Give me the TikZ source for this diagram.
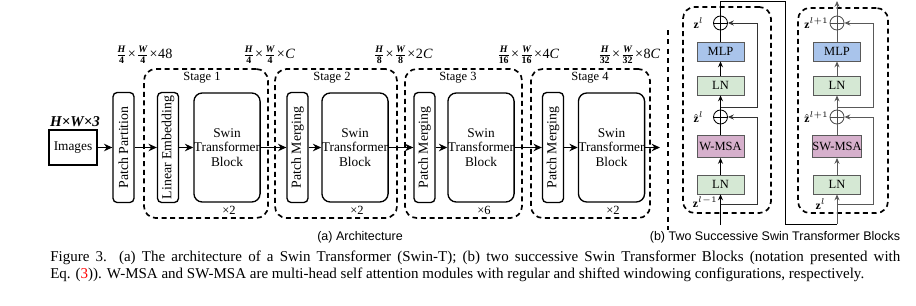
\documentclass[tikz,border=0pt]{standalone}
\usepackage{amsmath,bm}
\usepackage{fontspec}
\setmainfont{Liberation Serif}
\setsansfont{Liberation Sans}
\usetikzlibrary{arrows.meta,calc}
\def\pxu{0.6pt}
\definecolor{mlpblue}{RGB}{169,196,235}
\definecolor{lngreen}{RGB}{213,232,212}
\definecolor{msapink}{RGB}{214,176,204}
\tikzset{
  blk/.style={draw, line width=0.8pt, rounded corners=2.5pt, align=center, inner sep=0pt, font=\fontsize{8}{8.6}\selectfont},
  stb/.style={blk, rounded corners=5pt, minimum width=64*\pxu, minimum height=109*\pxu},
  vblk/.style={blk, rotate=90, minimum width=110*\pxu, minimum height=21*\pxu, font=\fontsize{8.3}{9}\selectfont},
  stagebox/.style={draw, line width=1pt, dash pattern=on 3pt off 2.2pt, rounded corners=7pt, minimum height=149*\pxu, inner sep=0pt},
  arr/.style={-{Stealth[length=5pt,width=4.5pt]}, line width=0.8pt},
  sarr/.style={-{Stealth[length=3.5pt,width=3pt]}, line width=0.5pt},
  lbl/.style={font=\fontsize{7.5}{8.5}\selectfont, inner sep=0pt},
  dim/.style={font=\fontsize{8.5}{10}\selectfont, inner sep=0pt},
  sbox/.style={draw=black!65, line width=0.5pt, minimum width=47*\pxu, minimum height=19*\pxu, inner sep=0pt, font=\fontsize{7.5}{8.5}\selectfont},
  plus/.style={circle, draw, line width=0.5pt, minimum size=14*\pxu, inner sep=0pt,
    path picture={\draw[line width=0.5pt] (path picture bounding box.north) -- (path picture bounding box.south) (path picture bounding box.west) -- (path picture bounding box.east);}},
  blockbox/.style={draw, line width=1pt, dash pattern=on 3pt off 2.2pt, rounded corners=7pt, inner sep=0pt},
  zlab/.style={font=\fontsize{7}{8}\selectfont, inner sep=0pt},
  sub/.style={font=\sffamily\fontsize{7.5}{9}\selectfont, inner sep=0pt},
  captext/.style={font=\fontsize{9}{11}\selectfont, inner sep=0pt}
}
\newcommand{\bi}[1]{\text{\bfseries\itshape #1}}
\newcommand{\bn}[1]{\text{\bfseries #1}}
\newcommand{\tms}{\text{\kern0.3pt×\kern0.3pt}}
\newcommand{\dimlab}[3]{$\frac{\bi{H}}{\bn{#1}}\tms\frac{\bi{W}}{\bn{#1}}\tms\text{#2\textit{#3}}$}
\begin{document}
\begin{tikzpicture}[x=0.6pt,y=-0.6pt]
\useasboundingbox (0,0) rectangle (916,305);
% ---------- (a) Architecture ----------
\node[stagebox, minimum width=124*\pxu] (s1) at (206,143.5) {};
\node[stagebox, minimum width=122*\pxu] (s2) at (336,143.5) {};
\node[stagebox, minimum width=117*\pxu] (s3) at (463.5,143.5) {};
\node[stagebox, minimum width=119*\pxu] (s4) at (590.5,143.5) {};
\node[lbl] (st1) at (202,78) {Stage 1};
\node[lbl] (st2) at (332,78) {Stage 2};
\node[lbl] (st3) at (458,78) {Stage 3};
\node[lbl] (st4) at (590,78) {Stage 4};

\node[dim, font=\fontsize{9}{10}\selectfont] (hw3) at (75,122) {\bfseries\itshape H×W×3};
\node[blk, rounded corners=0pt, minimum width=48*\pxu, minimum height=35*\pxu] (img) at (73,147.5) {Images};
\node[vblk] (pp) at (123.5,147.5) {Patch Partition};
\node[vblk] (le) at (168,147.5) {Linear Embedding};
\node[stb] (stb1) at (227,147.5) {Swin\\Transformer\\Block};
\node[vblk] (pm2) at (297.5,147.5) {Patch Merging};
\node[stb] (stb2) at (355,147.5) {Swin\\Transformer\\Block};
\node[vblk] (pm3) at (424.5,147.5) {Patch Merging};
\node[stb] (stb3) at (481,147.5) {Swin\\Transformer\\Block};
\node[vblk] (pm4) at (553,147.5) {Patch Merging};
\node[stb] (stb4) at (611.5,147.5) {Swin\\Transformer\\Block};
\coordinate (out) at (660,147.5);

\node[lbl] (x1) at (229,210) {×2};
\node[lbl] (x2) at (357,210) {×2};
\node[lbl] (x3) at (484,210) {×6};
\node[lbl] (x4) at (613,210) {×2};

\node[dim] (d0) at (144,55) {\dimlab{4}{48}{}};
\node[dim] (d1) at (269,55) {\dimlab{4}{}{C}};
\node[dim] (d2) at (403,55) {\dimlab{8}{2}{C}};
\node[dim] (d3) at (528,55) {\dimlab{16}{4}{C}};
\node[dim] (d4) at (629,55) {\dimlab{32}{8}{C}};

\draw[arr] (img) -- (pp);
\draw[arr] (pp) -- (le);
\draw[arr] (le) -- (stb1);
\draw[arr] (stb1) -- (pm2);
\draw[arr] (pm2) -- (stb2);
\draw[arr] (stb2) -- (pm3);
\draw[arr] (pm3) -- (stb3);
\draw[arr] (stb3) -- (pm4);
\draw[arr] (pm4) -- (stb4);
\draw[arr] (stb4) -- (out);

% separator
\coordinate (sepa) at (668,30);
\coordinate (sepb) at (668,230);
\draw[line width=1.3pt, dash pattern=on 3pt off 2.6pt] (sepa) -- (sepb);

% ---------- (b) Two blocks ----------
\node[blockbox, minimum width=88*\pxu, minimum height=206*\pxu] (b1) at (727,110) {};
\node[blockbox, minimum width=90*\pxu, minimum height=205*\pxu] (b2) at (843,110.5) {};

% block 1
\node[plus] (p1t) at (720.5,23) {};
\node[sbox, fill=mlpblue] (mlp1) at (720.5,51.5) {MLP};
\node[sbox, fill=lngreen] (ln1t) at (720.5,85.5) {LN};
\node[plus] (p1m) at (720.5,117) {};
\node[sbox, fill=msapink, minimum height=22*\pxu] (msa1) at (720.5,146.5) {W-MSA};
\node[sbox, fill=lngreen] (ln1b) at (720.5,184.5) {LN};
\coordinate (in1) at (720.5,225);
\coordinate (r1a) at (720.5,204);
\coordinate (r1b) at (757,204);
\coordinate (r1c) at (757,117);
\coordinate (r1d) at (720.5,107);
\coordinate (r1e) at (757,107);
\coordinate (r1f) at (757,23);
\draw[sarr] (in1) -- (ln1b);
\draw[sarr] (ln1b) -- (msa1);
\draw[line width=0.5pt] (msa1) -- (p1m);
\draw[sarr] (p1m) -- (ln1t);
\draw[sarr] (ln1t) -- (mlp1);
\draw[line width=0.5pt] (mlp1) -- (p1t);
\draw[sarr, black!80] (r1a) -- (r1b) -- (r1c) -- (p1m);
\draw[sarr, black!80] (r1d) -- (r1e) -- (r1f) -- (p1t);
\node[zlab, anchor=east] (z1t) at (704,23) {$\mathbf{z}^{l}$};
\node[zlab, anchor=east] (z1m) at (704,117) {$\hat{\mathbf{z}}^{l}$};
\node[zlab, anchor=east] (z1b) at (718,202) {$\mathbf{z}^{l-1}$};

% link between blocks
\coordinate (k1) at (720.5,1);
\coordinate (k2) at (785,1);
\coordinate (k3) at (785,224);
\coordinate (k4) at (837,224);

% block 2
\node[plus, draw=black!70] (p2t) at (837,23) {};
\node[sbox, fill=mlpblue] (mlp2) at (837,51.5) {MLP};
\node[sbox, fill=lngreen] (ln2t) at (837,85.5) {LN};
\node[plus, draw=black!70] (p2m) at (837,117) {};
\node[sbox, fill=msapink, minimum height=22*\pxu] (msa2) at (837,146.5) {SW-MSA};
\node[sbox, fill=lngreen] (ln2b) at (837,184.5) {LN};
\coordinate (r2a) at (837,204);
\coordinate (r2b) at (873,204);
\coordinate (r2c) at (873,117);
\coordinate (r2d) at (837,107);
\coordinate (r2e) at (873,107);
\coordinate (r2f) at (873,23);
\coordinate (out2) at (837,1);

\draw[line width=0.5pt] (p1t) -- (k1) -- (k2) -- (k3) -- (k4);
\draw[sarr, black!65] (k4) -- (ln2b);
\draw[sarr, black!65] (ln2b) -- (msa2);
\draw[line width=0.5pt, black!65] (msa2) -- (p2m);
\draw[sarr, black!65] (p2m) -- (ln2t);
\draw[sarr, black!65] (ln2t) -- (mlp2);
\draw[line width=0.5pt, black!65] (mlp2) -- (p2t);
\draw[sarr, black!65] (r2a) -- (r2b) -- (r2c) -- (p2m);
\draw[sarr, black!65] (r2d) -- (r2e) -- (r2f) -- (p2t);
\draw[sarr, black!65] (p2t) -- (out2);
\node[zlab, anchor=east] (z2t) at (829,23) {$\mathbf{z}^{l+1}$};
\node[zlab, anchor=east] (z2m) at (829,117) {$\hat{\mathbf{z}}^{l+1}$};
\node[zlab, anchor=east] (z2b) at (826,204) {$\mathbf{z}^{l}$};

% sub captions
\node[sub] (suba) at (360,237) {(a) Architecture};
\node[sub] (subb) at (775,237) {(b) Two Successive Swin Transformer Blocks};

% caption
\node[captext, anchor=west] (cap1) at (50,258) {\makebox[510pt][s]{Figure 3. (a) The architecture of a Swin Transformer (Swin-T); (b) two successive Swin Transformer Blocks (notation presented with}};
\node[captext, anchor=west] (cap2) at (50,275) {Eq. (\textcolor{red}{3})). W-MSA and SW-MSA are multi-head self attention modules with regular and shifted windowing configurations, respectively.};
\end{tikzpicture}
\end{document}
